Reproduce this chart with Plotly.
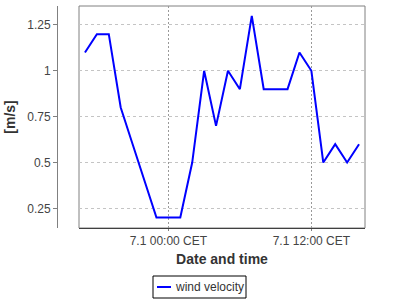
import plotly.graph_objects as go
import pandas as pd

times = pd.date_range("2020-06-30 17:00", "2020-07-01 16:00", freq="h")
velocity = [1.1, 1.2, 1.2, 0.8, 0.6, 0.4, 0.2, 0.2, 0.2, 0.5, 1.0, 0.7,
            1.0, 0.9, 1.3, 0.9, 0.9, 0.9, 1.1, 1.0, 0.5, 0.6, 0.5, 0.6]
series_name = "wind velocity"
x_tickvals = ["2020-07-01 00:00", "2020-07-01 12:00"]
x_ticktext = ["7.1 00:00 CET", "7.1 12:00 CET"]
y_tickvals = [0.25, 0.5, 0.75, 1, 1.25]
y_ticktext = ["0.25", "0.5", "0.75", "1", "1.25"]

FONT = "Liberation Sans, Arial, sans-serif"
LINE_COLOR = "#0000ff"

# paper region in pixels (for converting legend layout positions)
PL, PR, PT, PB = 57, 365, 6, 228
def px(x):
    return (x - PL) / (PR - PL)
def py(y):
    return (PB - y) / (PB - PT)

fig = go.Figure()
fig.add_trace(go.Scatter(x=times, y=velocity, mode="lines", name=series_name,
                         line=dict(color=LINE_COLOR, width=2), showlegend=False))

fig.update_layout(
    width=400, height=300,
    margin=dict(l=PL, r=400 - PR, t=PT, b=300 - PB),
    paper_bgcolor="white", plot_bgcolor="white",
    font=dict(family=FONT, size=12, color="#444444"),
    showlegend=False,
    xaxis=dict(domain=[22 / 308, 1], type="date",
               range=["2020-06-30 16:30", "2020-07-01 16:30"],
               tickvals=x_tickvals, ticktext=x_ticktext,
               showgrid=True, gridcolor="#999999", griddash="2px,2px", gridwidth=1,
               showline=True, linecolor="#404040", linewidth=1,
               ticks="outside", ticklen=2, tickcolor="#808080",
               zeroline=False,
               tickfont=dict(family=FONT, size=12, color="#444444"),
               title=dict(text="<b>Date and time</b>", standoff=6,
                          font=dict(family=FONT, size=14, color="#333333"))),
    yaxis=dict(anchor="free", position=0, range=[0.143, 1.3535],
               tickvals=y_tickvals, ticktext=y_ticktext,
               showgrid=True, gridcolor="#c4c4c4", griddash="3px,3px", gridwidth=1,
               showline=True, linecolor="#808080", linewidth=1,
               ticks="outside", ticklen=4, tickcolor="#808080",
               zeroline=False,
               tickfont=dict(family=FONT, size=12, color="#444444"),
               title=dict(text="<b>[m/s]</b>", standoff=7,
                          font=dict(family=FONT, size=14, color="#333333"))),
    shapes=[
        dict(type="rect", xref="x domain", yref="y domain",
             x0=0, x1=1, y0=0, y1=1, line=dict(color="#808080", width=1),
             layer="below"),
        # legend box
        dict(type="rect", xref="paper", yref="paper",
             x0=px(153), x1=px(246), y0=py(276), y1=py(298),
             line=dict(color="black", width=1), fillcolor="white"),
        dict(type="line", xref="paper", yref="paper",
             x0=px(157), x1=px(171), y0=py(287), y1=py(287),
             line=dict(color=LINE_COLOR, width=2)),
    ],
    annotations=[
        dict(text=series_name, xref="paper", yref="paper",
             x=px(173), y=py(287), xanchor="left", yanchor="middle",
             showarrow=False, font=dict(family=FONT, size=12, color="#333333")),
    ],
)

fig.write_html("out.html")
